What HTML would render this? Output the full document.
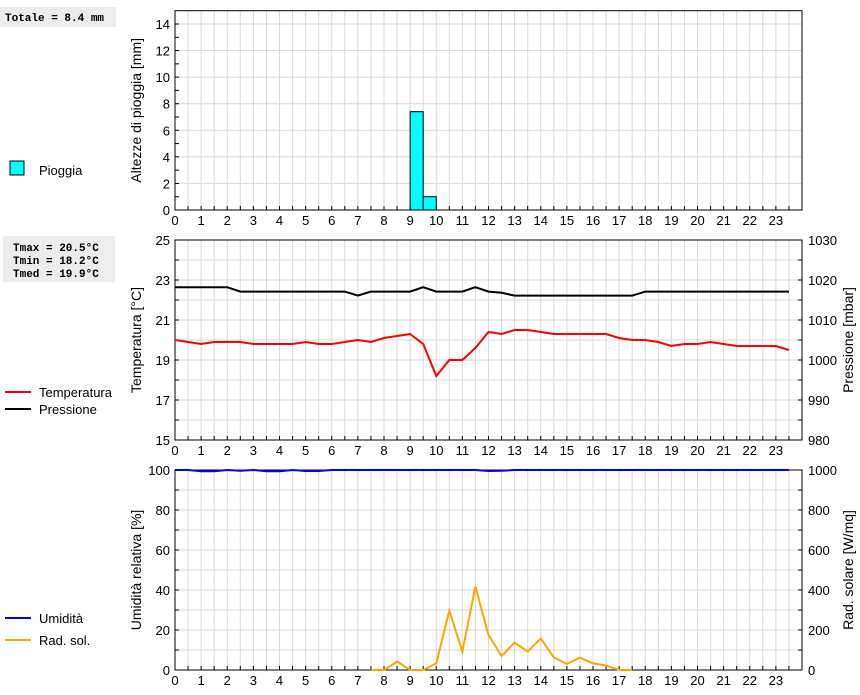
<!DOCTYPE html>
<html><head><meta charset="utf-8"><style>
body{margin:0;background:#fff;}
svg text{font-family:"Liberation Sans",sans-serif;}
.mono{font-family:"Liberation Mono",monospace;font-weight:bold;font-size:11px;}
</style></head><body>
<svg id="chart" width="860" height="690" xmlns="http://www.w3.org/2000/svg">
<g>
<rect x="0" y="7" width="116" height="20" fill="#ececec"/>
<text class="mono" x="5" y="21">Totale = 8.4 mm</text>
<rect x="3" y="236" width="112" height="46" fill="#ececec"/>
<text class="mono" x="13" y="251">Tmax = 20.5°C</text>
<text class="mono" x="13" y="264">Tmin = 18.2°C</text>
<text class="mono" x="13" y="277">Tmed = 19.9°C</text>
</g>
<g>
<rect x="10" y="161" width="14" height="14" fill="#00ffff" stroke="#000"/>
<text x="39" y="175" font-size="13">Pioggia</text>
<line x1="5" y1="392" x2="31" y2="392" stroke="#f00" stroke-width="2"/>
<text x="39" y="397" font-size="13">Temperatura</text>
<line x1="5" y1="409" x2="31" y2="409" stroke="#000" stroke-width="2"/>
<text x="39" y="414" font-size="13">Pressione</text>
<line x1="5" y1="618" x2="31" y2="618" stroke="#00f" stroke-width="2"/>
<text x="39" y="623" font-size="13">Umidità</text>
<line x1="5" y1="640" x2="31" y2="640" stroke="#ffa500" stroke-width="2"/>
<text x="39" y="645" font-size="13">Rad. sol.</text>
</g>
<g id="plots"></g>
</svg>
<script>
const hours = [];
for (let i = 0; i < 48; i++) hours.push(i / 2);
const rainStart = [9, 9.5];
const rainValues = [7.4, 1.0];
const tempValues = [20.0,19.9,19.8,19.9,19.9,19.9,19.8,19.8,19.8,19.8,19.9,19.8,19.8,19.9,20.0,19.9,20.1,20.2,20.3,19.8,18.2,19.0,19.0,19.6,20.4,20.3,20.5,20.5,20.4,20.3,20.3,20.3,20.3,20.3,20.1,20.0,20.0,19.9,19.7,19.8,19.8,19.9,19.8,19.7,19.7,19.7,19.7,19.5];
const pressValues = [1018.2,1018.2,1018.2,1018.2,1018.2,1017.1,1017.1,1017.1,1017.1,1017.1,1017.1,1017.1,1017.1,1017.1,1016.1,1017.1,1017.1,1017.1,1017.1,1018.2,1017.1,1017.1,1017.1,1018.2,1017.1,1016.8,1016.1,1016.1,1016.1,1016.1,1016.1,1016.1,1016.1,1016.1,1016.1,1016.1,1017.1,1017.1,1017.1,1017.1,1017.1,1017.1,1017.1,1017.1,1017.1,1017.1,1017.1,1017.1];
const humValues = [100,100,99.4,99.4,100,99.6,100,99.4,99.4,100,99.5,99.5,100,100,100,100,100,100,100,100,100,100,100,100,99.5,99.6,100,100,100,100,100,100,100,100,100,100,100,100,100,100,100,100,100,100,100,100,100,100];
const solarValues = [null,null,null,null,null,null,null,null,null,null,null,null,null,null,null,0,0,42,0,0,33,297,92,417,175,70,137,92,158,63,30,62,33,22,0,0,null,null,null,null,null,null,null,null,null,null,null,null];
const rainTicks = [0,2,4,6,8,10,12,14];
const tempTicks = [15,17,19,21,23,25];
const pressTicks = [980,990,1000,1010,1020,1030];
const humTicks = [0,20,40,60,80,100];
const solarTicks = [0,200,400,600,800,1000];

const NS = "http://www.w3.org/2000/svg";
const root = document.getElementById('plots');
const X0 = 175, X1 = 802;
const xs = h => X0 + h * (X1 - X0) / 24;
function el(tag, attrs, parent) {
  const e = document.createElementNS(NS, tag);
  for (const k in attrs) e.setAttribute(k, attrs[k]);
  (parent || root).appendChild(e);
  return e;
}
function panel(name, top, bottom, lmin, lmax, lminor, lgrid, lticks, ltitle, rmin, rmax, rminor, rticks, rtitle) {
  const g = el('g', {});
  
  
  const ly = v => bottom - (v - lmin) / (lmax - lmin) * (bottom - top);
  const ry = rticks ? (v => bottom - (v - rmin) / (rmax - rmin) * (bottom - top)) : null;
  const grid = el('g', {stroke: '#d8d8d8', 'stroke-width': 1}, g);
  
  
  for (let h = 0.5; h < 24; h += 0.5) el('line', {x1: xs(h), x2: xs(h), y1: top, y2: bottom}, grid);
  for (let v = lmin + lgrid; v < lmax; v += lgrid) el('line', {x1: X0, x2: X1, y1: ly(v), y2: ly(v)}, grid);
  const ax = el('g', {stroke: '#000', 'stroke-width': 1}, g);
  
  
  el('rect', {x: X0, y: top, width: X1 - X0, height: bottom - top, fill: 'none'}, ax);
  for (let h = 0.5; h < 24; h += 0.5) el('line', {x1: xs(h), x2: xs(h), y1: bottom, y2: bottom - 4}, ax);
  for (let v = lmin + lminor; v < lmax; v += lminor) el('line', {x1: X0, x2: X0 + 4, y1: ly(v), y2: ly(v)}, ax);
  if (rticks) for (let v = rmin + rminor; v < rmax; v += rminor) el('line', {x1: X1, x2: X1 - 4, y1: ry(v), y2: ry(v)}, ax);
  for (let h = 0; h < 24; h++) {
    const t = el('text', {x: xs(h), y: bottom + 15, 'font-size': 13, 'text-anchor': 'middle'}, g);
    
    
    t.textContent = h;
  }
  lticks.forEach(v => {
    const t = el('text', {x: X0 - 5, y: ly(v) + 5, 'font-size': 13, 'text-anchor': 'end'}, g);
    
    
    t.textContent = v;
  });
  const lt = el('text', {x: 0, y: 0, 'font-size': 14, 'text-anchor': 'middle', transform: `translate(141,${(top + bottom) / 2}) rotate(-90)`}, g);
  
  
  lt.textContent = ltitle;
  if (rticks) {
    rticks.forEach(v => {
      const t = el('text', {x: X1 + 6, y: ry(v) + 5, 'font-size': 13}, g);
      
      
      t.textContent = v;
    });
    const rt = el('text', {x: 0, y: 0, 'font-size': 14, 'text-anchor': 'middle', transform: `translate(853,${(top + bottom) / 2}) rotate(-90)`}, g);
    
    
    rt.textContent = rtitle;
  }
  return {g, ly, ry};
}
function line(g, vals, yf, color, name) {
  let d = '', pen = false;
  vals.forEach((v, i) => {
    if (v === null) { pen = false; return; }
    d += (pen ? 'L' : 'M') + xs(hours[i]).toFixed(1) + ',' + yf(v).toFixed(1);
    pen = true;
  });
  const p = el('path', {d, fill: 'none', stroke: color, 'stroke-width': 2}, g);
  
  
}
const p1 = panel('rain-panel', 10.7, 210, 0, 15, 1, 2, rainTicks, 'Altezze di pioggia [mm]');
rainStart.forEach((h, i) => {
  const r = el('rect', {x: xs(h), y: p1.ly(rainValues[i]), width: xs(h + 0.5) - xs(h), height: p1.ly(0) - p1.ly(rainValues[i]), fill: '#00ffff', stroke: '#000'}, p1.g);
  
  
});
const p2 = panel('temp-panel', 240, 440, 15, 25, 1, 1, tempTicks, 'Temperatura [°C]', 980, 1030, 5, pressTicks, 'Pressione [mbar]');
line(p2.g, pressValues, p2.ry, '#000', 'pressure-line');
line(p2.g, tempValues, p2.ly, '#f00', 'temperature-line');
const p3 = panel('humidity-panel', 470, 670, 0, 100, 10, 10, humTicks, 'Umidità relativa [%]', 0, 1000, 100, solarTicks, 'Rad. solare [W/mq]');
line(p3.g, humValues, p3.ly, '#00f', 'humidity-line');
line(p3.g, solarValues, p3.ry, '#ffa500', 'solar-line');
</script>
</body></html>
